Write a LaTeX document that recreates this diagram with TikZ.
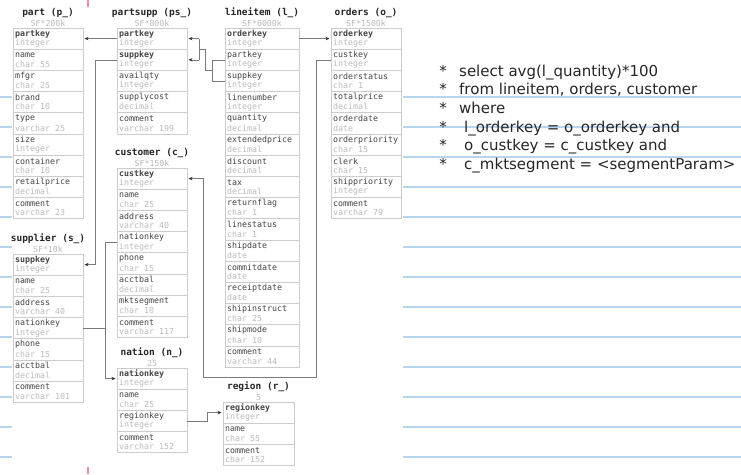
\documentclass[tikz,border=0pt]{standalone}
\usepackage{fontspec}
\setmainfont{DejaVu Sans}
\setmonofont{DejaVu Sans Mono}
\usetikzlibrary{calc,arrows.meta}
\definecolor{ruleblue}{HTML}{B9D5EE}
\definecolor{marginpink}{HTML}{E98BAA}
\definecolor{boxgray}{HTML}{CCCCCC}
\definecolor{namegray}{HTML}{444444}
\definecolor{typegray}{HTML}{BBBBBB}
\definecolor{linegray}{HTML}{7A7A7A}
\tikzset{
  tabtitle/.style={inner sep=0pt, font=\ttfamily\bfseries\fontsize{9.5}{11}\selectfont, text=black!85},
  sftext/.style={inner sep=0pt, font=\ttfamily\fontsize{8.3}{9}\selectfont, text=typegray},
  rowbox/.style={draw=boxgray, line width=0.7pt, fill=white, minimum height=21.2pt, inner sep=0pt, outer sep=0pt},
  fieldname/.style={inner sep=0pt, font=\ttfamily\fontsize{8.3}{9}\selectfont, text=namegray},
  fieldtype/.style={inner sep=0pt, font=\ttfamily\fontsize{8.3}{9}\selectfont, text=typegray},
  fk/.style={draw=linegray, line width=0.6pt, -{Stealth[length=4pt,width=3.2pt,color=black!85]}, shorten >=1.5pt},
  link/.style={draw=linegray, line width=0.6pt},
  rule/.style={draw=ruleblue, line width=1.1pt},
  query/.style={inner sep=0pt, font=\fontsize{15}{18}\selectfont, text=black!85, anchor=base west},
  star/.style={inner sep=0pt, font=\fontsize{15}{18}\selectfont, text=black!85, anchor=base}
}
\newcommand{\dbtable}[7]{%
  \node[tabtitle] (#1-title) at ({#4+#6/2},{#5-15}) {#2};
  \node[sftext] (#1-sf) at ({#4+#6/2},{#5-4.5}) {#3};
  \foreach \nm/\ty/\bd [count=\i] in {#7} {%
    \pgfmathsetmacro{\rowtop}{#5+(\i-1)*21.2}
    \node[rowbox, minimum width=#6pt, anchor=north west] (#1-\i) at (#4,\rowtop) {};
    \node[fieldname, anchor=west] (#1-\i-n) at ({#4+2},{\rowtop+5.8}) {\ifnum\bd=1 \bfseries\fi\nm};
    \node[fieldtype, anchor=west] (#1-\i-t) at ({#4+2},{\rowtop+15.2}) {\ty};
  }%
}
\begin{document}
\begin{tikzpicture}[x=1pt,y=-1pt]
\useasboundingbox (0,0) rectangle (741,474);
\fill[white] (0,0) rectangle (741,474);
% notebook rules
\foreach \yy in {97,127,...,457} \draw[rule] (0,\yy) -- (741,\yy);
\draw[marginpink, line width=1.2pt] (88,0) -- (88,474);
% schema image background
\fill[white] (12,7) rectangle (403,467);

\dbtable{part}{part (p\_)}{SF*200k}{13}{28}{70}{partkey/integer/1, name/char 55/0, mfgr/char 25/0, brand/char 10/0, type/varchar 25/0, size/integer/0, container/char 10/0, retailprice/decimal/0, comment/varchar 23/0}
\dbtable{partsupp}{partsupp (ps\_)}{SF*800k}{117}{28}{70}{partkey/integer/1, suppkey/integer/1, availqty/integer/0, supplycost/decimal/0, comment/varchar 199/0}
\dbtable{lineitem}{lineitem (l\_)}{SF*6000k}{225}{28}{74}{orderkey/integer/1, partkey/integer/0, suppkey/integer/0, linenumber/integer/0, quantity/decimal/0, extendedprice/decimal/0, discount/decimal/0, tax/decimal/0, returnflag/char 1/0, linestatus/char 1/0, shipdate/date/0, commitdate/date/0, receiptdate/date/0, shipinstruct/char 25/0, shipmode/char 10/0, comment/varchar 44/0}
\dbtable{orders}{orders (o\_)}{SF*1500k}{331}{28}{70}{orderkey/integer/1, custkey/integer/0, orderstatus/char 1/0, totalprice/decimal/0, orderdate/date/0, orderpriority/char 15/0, clerk/char 15/0, shippriority/integer/0, comment/varchar 79/0}
\dbtable{customer}{customer (c\_)}{SF*150k}{117}{168}{70}{custkey/integer/1, name/char 25/0, address/varchar 40/0, nationkey/integer/0, phone/char 15/0, acctbal/decimal/0, mktsegment/char 10/0, comment/varchar 117/0}
\dbtable{supplier}{supplier (s\_)}{SF*10k}{13}{254}{70}{suppkey/integer/1, name/char 25/0, address/varchar 40/0, nationkey/integer/0, phone/char 15/0, acctbal/decimal/0, comment/varchar 101/0}
\dbtable{nation}{nation (n\_)}{25}{117}{368}{70}{nationkey/integer/1, name/char 25/0, regionkey/integer/0, comment/varchar 152/0}
\dbtable{region}{region (r\_)}{5}{223}{402}{71}{regionkey/integer/1, name/char 55/0, comment/char 152/0}

% helper coordinates
\coordinate (sx) at (95,0);
\coordinate (nx) at (105,0);
\coordinate (rx) at (207,0);
\coordinate (cA) at (316,377);
\coordinate (cB) at (203,377);

% partsupp.partkey -> part.partkey
\draw[fk] (partsupp-1.west) -- (part-1.east);
% partsupp.suppkey -> supplier.suppkey
\draw[fk] (partsupp-2.west) -- (partsupp-2.west -| sx) |- (supplier-1.east);
% lineitem (partkey,suppkey) -> partsupp (partkey,suppkey)
\coordinate (pb1) at ([xshift=12pt]partsupp-1.east);
\coordinate (pb2) at ([xshift=12pt]partsupp-2.east);
\coordinate (lb1) at ([xshift=-13pt]lineitem-2.west);
\coordinate (lb2) at ([xshift=-13pt]lineitem-3.west);
\draw[fk] (pb1) -- (partsupp-1.east);
\draw[fk] (pb2) -- (partsupp-2.east);
\draw[link] (pb1) -- (pb2);
\draw[link] (lineitem-2.west) -- (lb1) -- (lb2) -- (lineitem-3.west);
\coordinate (pm) at ($(pb1)!0.5!(pb2)$);
\coordinate (lm) at ($(lb1)!0.5!(lb2)$);
\draw[link] (pm) -| ($(pm)!0.5!(lm)$) |- (lm);
% lineitem.orderkey -> orders.orderkey
\draw[fk] (lineitem-1.east) -- (orders-1.west);
% orders.custkey -> customer.custkey
\draw[fk] (orders-2.west) -| (cA) -- (cB) |- (customer-1.east);
% customer.nationkey -> nation.nationkey
\draw[fk] (customer-4.west) -- (customer-4.west -| nx) |- (nation-1.west);
% supplier.nationkey joins
\draw[link] (supplier-4.east) -- (supplier-4.east -| nx);
% nation.regionkey -> region.regionkey
\draw[fk] (nation-3.east) -- (nation-3.east -| rx) |- (region-1.west);

% query text
\node[star] (s1) at (443,76) {*};
\node[query] (q1) at (459,76) {select avg(l\_quantity)*100};
\node[star] (s2) at (443,94.7) {*};
\node[query] (q2) at (459,94.7) {from lineitem, orders, customer};
\node[star] (s3) at (443,113.4) {*};
\node[query] (q3) at (459,113.4) {where};
\node[star] (s4) at (443,132.1) {*};
\node[query] (q4) at (464,132.1) {l\_orderkey = o\_orderkey and};
\node[star] (s5) at (443,150.8) {*};
\node[query] (q5) at (464,150.8) {o\_custkey = c\_custkey and};
\node[star] (s6) at (443,169.5) {*};
\node[query] (q6) at (464,169.5) {c\_mktsegment = <segmentParam>};
\end{tikzpicture}
\end{document}
